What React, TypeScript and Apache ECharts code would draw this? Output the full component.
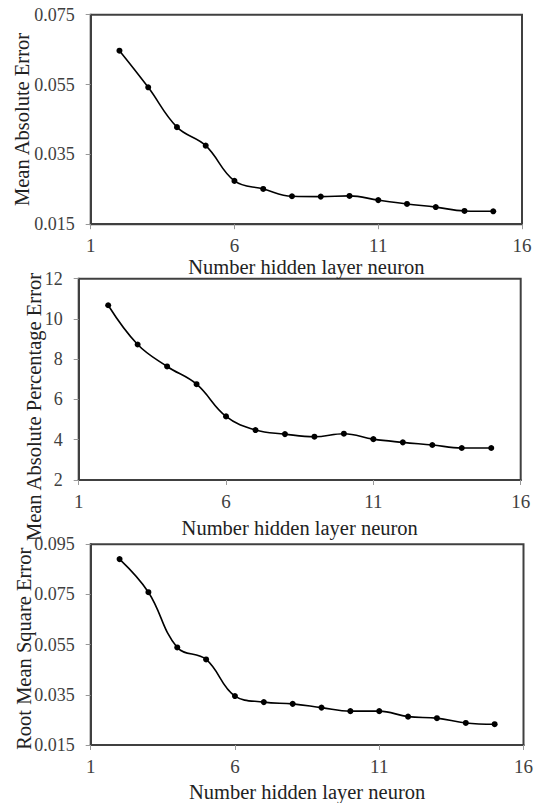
import React, { useEffect, useRef } from "react";
import * as echarts from "echarts";

const neurons = [2, 3, 4, 5, 6, 7, 8, 9, 10, 11, 12, 13, 14, 15];
const maeValues = [0.0647, 0.0542, 0.0428, 0.0375, 0.0274, 0.0251, 0.023, 0.0229, 0.0231, 0.0219, 0.0208, 0.0199, 0.0188, 0.0187];
const mapeValues = [10.68, 8.73, 7.64, 6.76, 5.16, 4.48, 4.28, 4.15, 4.3, 4.03, 3.87, 3.74, 3.59, 3.59];
const rmseValues = [0.0891, 0.0759, 0.0539, 0.0491, 0.0345, 0.0321, 0.0314, 0.0299, 0.0285, 0.0285, 0.0263, 0.0257, 0.0238, 0.0233];

const xAxisTitle = "Number hidden layer neuron";
const yTitles = ["Mean Absolute Error", "Mean Absolute Percentage Error", "Root Mean Square Error"];

const FONT = "'Liberation Serif', 'Times New Roman', serif";
const TEXT = "#404040";

export default function App() {
  const ref = useRef<HTMLDivElement>(null);
  useEffect(() => {
    if (!ref.current) return;
    const chart = echarts.init(ref.current, null, { renderer: "svg" });
    const grids = [
      { left: 90.7, top: 14.7, width: 431.3, height: 209.5 },
      { left: 78.7, top: 278.7, width: 442, height: 201.3 },
      { left: 90.7, top: 544.3, width: 433.3, height: 209 },
    ];
    const yCfg = [
      { min: 0.015, max: 0.075, interval: 0.02, dec: 3 },
      { min: 2, max: 12, interval: 2, dec: 0 },
      { min: 0.015, max: 0.095, interval: 0.02, dec: 3 },
    ];
    const nameGaps = [28, 37, 36];
    const yNameX = [22, 34, 24];
    const datasets = [maeValues, mapeValues, rmseValues];
    const option: any = {
      animation: false,
      backgroundColor: "#ffffff",
      grid: grids.map((g) => ({
        ...g,
        show: true,
        borderColor: "#404040",
        borderWidth: 2,
        backgroundColor: "transparent",
        containLabel: false,
      })),
      xAxis: grids.map((_, i) => ({
        type: "value",
        gridIndex: i,
        min: 1,
        max: 16,
        interval: 5,
        name: xAxisTitle,
        nameLocation: "middle",
        nameGap: nameGaps[i],
        nameTextStyle: { fontFamily: FONT, fontSize: 20.5, color: "#222" },
        axisLine: { show: true, lineStyle: { color: "#404040", width: 2 } },
        axisTick: { show: true, inside: false, length: 5, lineStyle: { color: "#999" } },
        axisLabel: { fontFamily: FONT, fontSize: 19, color: TEXT, margin: 12 },
        splitLine: { show: false },
      })),
      yAxis: yCfg.map((c, i) => ({
        type: "value",
        gridIndex: i,
        min: c.min,
        max: c.max,
        interval: c.interval,
        axisLine: { show: true, lineStyle: { color: "#404040", width: 2 } },
        axisTick: { show: true, inside: false, length: 5, lineStyle: { color: "#999" } },
        axisLabel: {
          fontFamily: FONT,
          fontSize: 18,
          color: TEXT,
          margin: 16,
          formatter: (v: number) => v.toFixed(c.dec),
        },
        splitLine: { show: false },
      })),
      graphic: yTitles.map((t, i) => ({
        type: "text",
        x: yNameX[i],
        y: i === 1 ? 407 : grids[i].top + grids[i].height / 2,
        rotation: Math.PI / 2,
        style: {
          text: t,
          fontFamily: FONT,
          fontSize: 20.5,
          fill: "#222",
          align: "center",
          verticalAlign: "middle",
        },
      })),
      series: datasets.map((d, i) => ({
        type: "line",
        xAxisIndex: i,
        yAxisIndex: i,
        data: neurons.map((n, k) => [n, d[k]]),
        smooth: 0.4,
        symbol: "circle",
        symbolSize: 6,
        lineStyle: { color: "#000", width: 1.6 },
        itemStyle: { color: "#000" },
      })),
    };
    chart.setOption(option);
    return () => chart.dispose();
  }, []);
  return (
    <div
      ref={ref}
      style={{ position: "absolute", left: 0, top: 0, width: 536, height: 803 }}
    />
  );
}
